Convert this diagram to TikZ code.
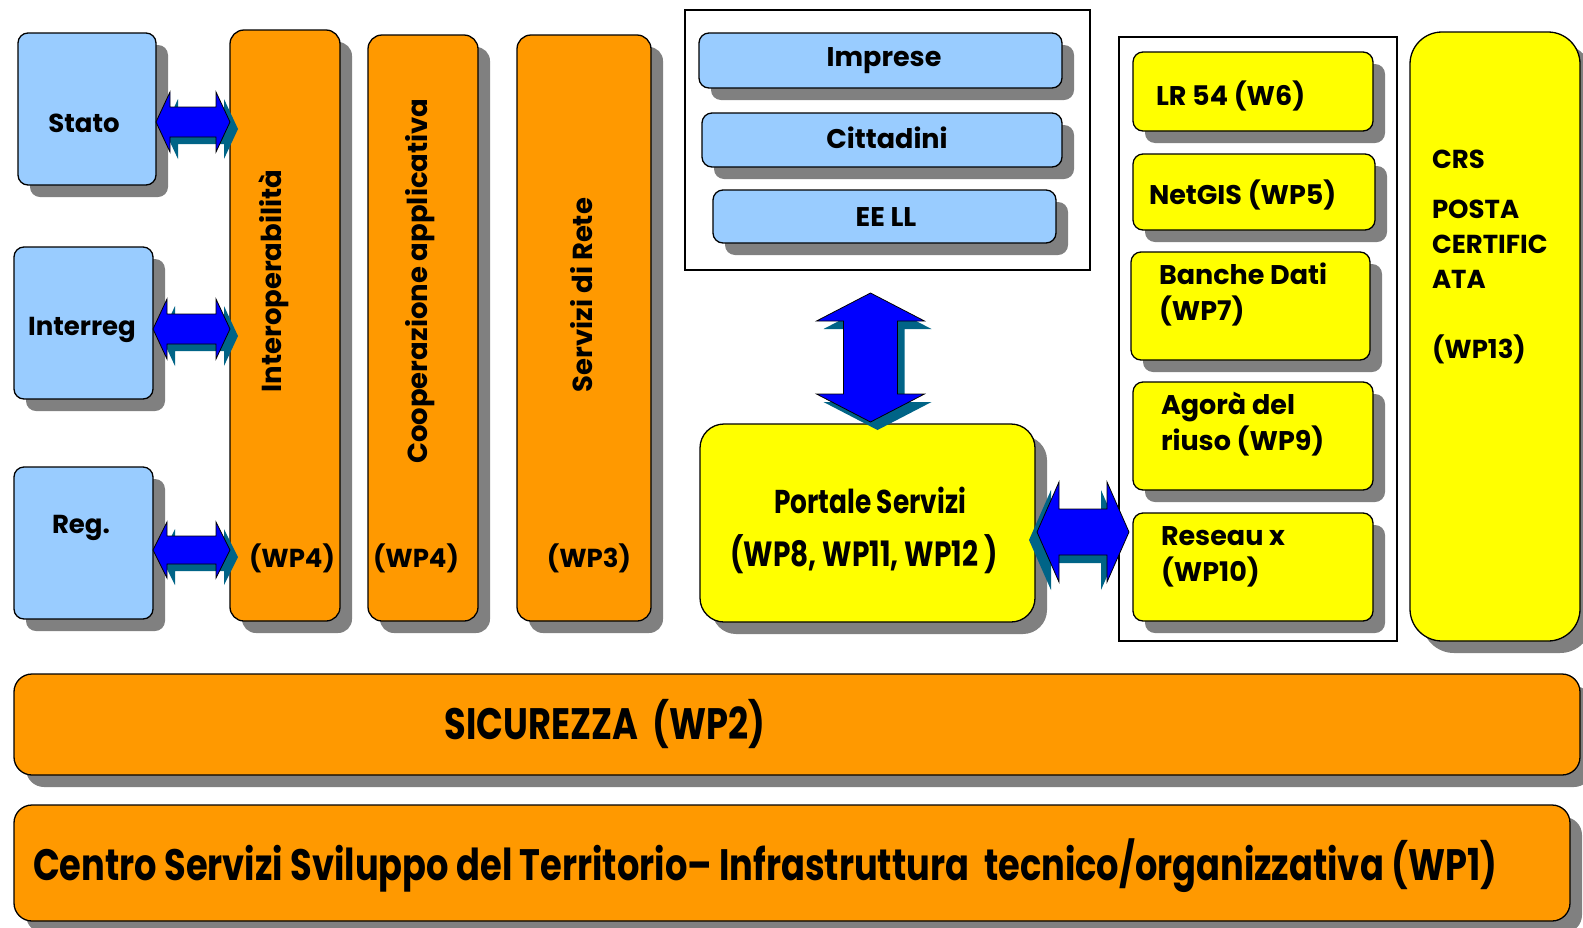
\documentclass[tikz,border=0pt]{standalone}
\usepackage{fontspec}
\setmainfont{Poppins}
\newfontfamily\condfont{Poppins}[FakeStretch=0.8]
\usetikzlibrary{shadows,calc}
\definecolor{lblue}{HTML}{99CCFF}
\definecolor{orng}{HTML}{FF9900}
\definecolor{yel}{HTML}{FFFF00}
\definecolor{shgray}{HTML}{808080}
\definecolor{arrblue}{HTML}{0000FF}
\definecolor{arrteal}{HTML}{006487}
\newcommand\HArrow[6]{%
  \path[#6] let \p1=#1, \p2=#2 in
   (\x1,\y1) -- (\x1+#5,\y1+#3) -- (\x1+#5,\y1+#4) -- (\x2-#5,\y1+#4) -- (\x2-#5,\y1+#3) -- (\x2,\y1)
   -- (\x2-#5,\y1-#3) -- (\x2-#5,\y1-#4) -- (\x1+#5,\y1-#4) -- (\x1+#5,\y1-#3) -- cycle;}
\newcommand\VArrow[6]{%
  \path[#6] let \p1=#1, \p2=#2 in
   (\x1,\y1) -- (\x1+#3,\y1-#5) -- (\x1+#4,\y1-#5) -- (\x1+#4,\y2+#5) -- (\x1+#3,\y2+#5) -- (\x1,\y2)
   -- (\x1-#3,\y2+#5) -- (\x1-#4,\y2+#5) -- (\x1-#4,\y1-#5) -- (\x1-#3,\y1-#5) -- cycle;}
\tikzset{
  box/.style={draw=black, line width=1.3pt, rounded corners=10pt, inner sep=0pt, outer sep=0pt,
    anchor=north west, drop shadow={shadow xshift=12pt, shadow yshift=-12pt, fill=shgray, opacity=1}},
  bluebox/.style={box, fill=lblue},
  orbox/.style={box, fill=orng, rounded corners=14pt},
  yelbox/.style={box, fill=yel},
  frame/.style={draw=black, inner sep=0pt, outer sep=0pt, anchor=north west},
  txt/.style={inner sep=0pt, outer sep=0pt, font={\bfseries\fontsize{26}{36}\selectfont}},
  vtxt/.style={txt, rotate=90, font={\bfseries\fontsize{27.5}{36}\selectfont}},
  ytxt/.style={txt, anchor=west, align=left, font={\bfseries\fontsize{27}{36}\selectfont}},
  arrbody/.style={fill=arrblue, draw=black, line width=0.8pt},
  arrshadow/.style={fill=arrteal},
}
\begin{document}
\begin{tikzpicture}[x=1pt,y=-1pt]
\fill[white] (0,0) rectangle (1583,927);
\useasboundingbox (0,0) rectangle (1583,927);

% frames
\node[frame, line width=1.2pt, minimum width=405pt, minimum height=260pt] (citbox) at (685,10) {};
\node[frame, line width=2.6pt, minimum width=278pt, minimum height=604pt] (rightbox) at (1119,37) {};

% left blue boxes
\node[bluebox, minimum width=138pt, minimum height=152pt] (stato) at (18,33) {};
\node[bluebox, minimum width=139pt, minimum height=152pt] (interreg) at (14,247) {};
\node[bluebox, minimum width=139pt, minimum height=152pt] (reg) at (14,467) {};

% orange columns
\node[orbox, minimum width=110pt, minimum height=591pt] (interop) at (230,30) {};
\node[orbox, minimum width=110pt, minimum height=586pt] (coop) at (368,35) {};
\node[orbox, minimum width=134pt, minimum height=586pt] (rete) at (517,35) {};

% top middle
\node[bluebox, minimum width=363pt, minimum height=55pt] (imprese) at (699,33) {};
\node[bluebox, minimum width=360pt, minimum height=54pt] (cittadini) at (702,113) {};
\node[bluebox, minimum width=343pt, minimum height=53pt] (eell) at (713,190) {};

% portale
\node[yelbox, rounded corners=24pt, minimum width=335pt, minimum height=198pt] (portale) at (700,424) {};

% right yellow boxes
\node[yelbox, minimum width=240pt, minimum height=79pt] (lr54) at (1133,52) {};
\node[yelbox, minimum width=242pt, minimum height=76pt] (netgis) at (1133,154) {};
\node[yelbox, minimum width=239pt, minimum height=108pt] (banche) at (1131,252) {};
\node[yelbox, minimum width=240pt, minimum height=108pt] (agora) at (1133,382) {};
\node[yelbox, minimum width=240pt, minimum height=108pt] (reseau) at (1133,513) {};
\node[yelbox, rounded corners=32pt, minimum width=170pt, minimum height=609pt] (crs) at (1410,32) {};

% bottom bars
\node[orbox, rounded corners=18pt, minimum width=1566pt, minimum height=101pt] (sicurezza) at (14,674) {};
\node[orbox, rounded corners=18pt, minimum width=1556pt, minimum height=116pt] (centro) at (14,805) {};

% arrows
\HArrow{($(stato.east)+(8,20)$)}{($(interop.west)+(8,0)$)}{30pt}{15pt}{14pt}{arrshadow}
\HArrow{($(stato.east)+(0,13)$)}{(interop.west)}{30pt}{15pt}{14pt}{arrbody}
\HArrow{($(interreg.east)+(8,13)$)}{($(interop.west)+(8,0)$)}{30pt}{15pt}{14pt}{arrshadow}
\HArrow{($(interreg.east)+(0,6)$)}{(interop.west)}{30pt}{15pt}{14pt}{arrbody}
\HArrow{($(reg.east)+(8,14)$)}{($(interop.west)+(8,0)$)}{28pt}{14pt}{14pt}{arrshadow}
\HArrow{($(reg.east)+(0,7)$)}{(interop.west)}{28pt}{14pt}{14pt}{arrbody}
\HArrow{($(portale.east)+(-6,17)$)}{($(reseau.west)+(-10,0)$)}{50pt}{23pt}{22pt}{arrshadow}
\HArrow{($(portale.east)+(2,9)$)}{($(reseau.west)+(-4,0)$)}{50pt}{23pt}{22pt}{arrbody}
\VArrow{($(portale.north |- citbox.south)+(10,31)$)}{($(portale.north)+(10,6)$)}{54pt}{27pt}{28pt}{arrshadow}
\VArrow{($(portale.north |- citbox.south)+(3,23)$)}{($(portale.north)+(3,-2)$)}{54pt}{27pt}{28pt}{arrbody}

% texts
\node[txt] (t-stato) at (84,123) {Stato};
\node[txt] (t-interreg) at (82,330) {Interreg};
\node[txt] (t-reg) at (81,528) {Reg.};
\node[vtxt] (t-interop) at (274,281) {Interoperabilità};
\node[txt] (t-wp4a) at (292,558) {(WP4)};
\node[vtxt] (t-coop) at (420,281) {Cooperazione applicativa};
\node[txt] (t-wp4b) at (416,558) {(WP4)};
\node[vtxt] (t-rete) at (582,295) {Servizi di Rete};
\node[txt] (t-wp3) at (589,558) {(WP3)};
\node[txt, font={\bfseries\fontsize{27}{36}\selectfont}] (t-imprese) at (884,61) {Imprese};
\node[txt, font={\bfseries\fontsize{27}{36}\selectfont}] (t-citt) at (887,138) {Cittadini};
\node[txt, font={\bfseries\fontsize{27}{36}\selectfont}] (t-eell) at (886,217) {EE LL};
\node[txt, font={\condfont\bfseries\fontsize{33}{36}\selectfont}] (t-portale) at (870,500) {Portale Servizi};
\node[txt, font={\condfont\bfseries\fontsize{35}{36}\selectfont}] (t-portwp) at (864,554) {(WP8, WP11, WP12 )};
\node[ytxt] (t-lr54) at (1156,96) {LR 54 (W6)};
\node[ytxt] (t-netgis) at (1149,195) {NetGIS (WP5)};
\node[ytxt] (t-banche) at (1159,295) {Banche Dati\\(WP7)};
\node[ytxt] (t-agora) at (1161,424) {Agorà del\\riuso (WP9)};
\node[ytxt] (t-reseau) at (1161,557) {Reseau x\\(WP10)};
\node[txt, anchor=west] (t-crs) at (1432,159) {CRS};
\node[txt, anchor=north west, align=left, font={\bfseries\fontsize{26}{35}\selectfont}] (t-posta) at (1432,200) {POSTA\\CERTIFIC\\ATA\\[35pt](WP13)};
\node[txt, font={\condfont\bfseries\fontsize{44}{48}\selectfont}] (t-sic) at (605,724) {SICUREZZA\ \ (WP2)};
\node[txt, anchor=west, font={\condfont\bfseries\fontsize{44}{48}\selectfont}] (t-centro) at (33,866) {Centro Servizi Sviluppo del Territorio–\ Infrastruttura\ \ tecnico/organizzativa (WP1)};
\end{tikzpicture}
\end{document}
